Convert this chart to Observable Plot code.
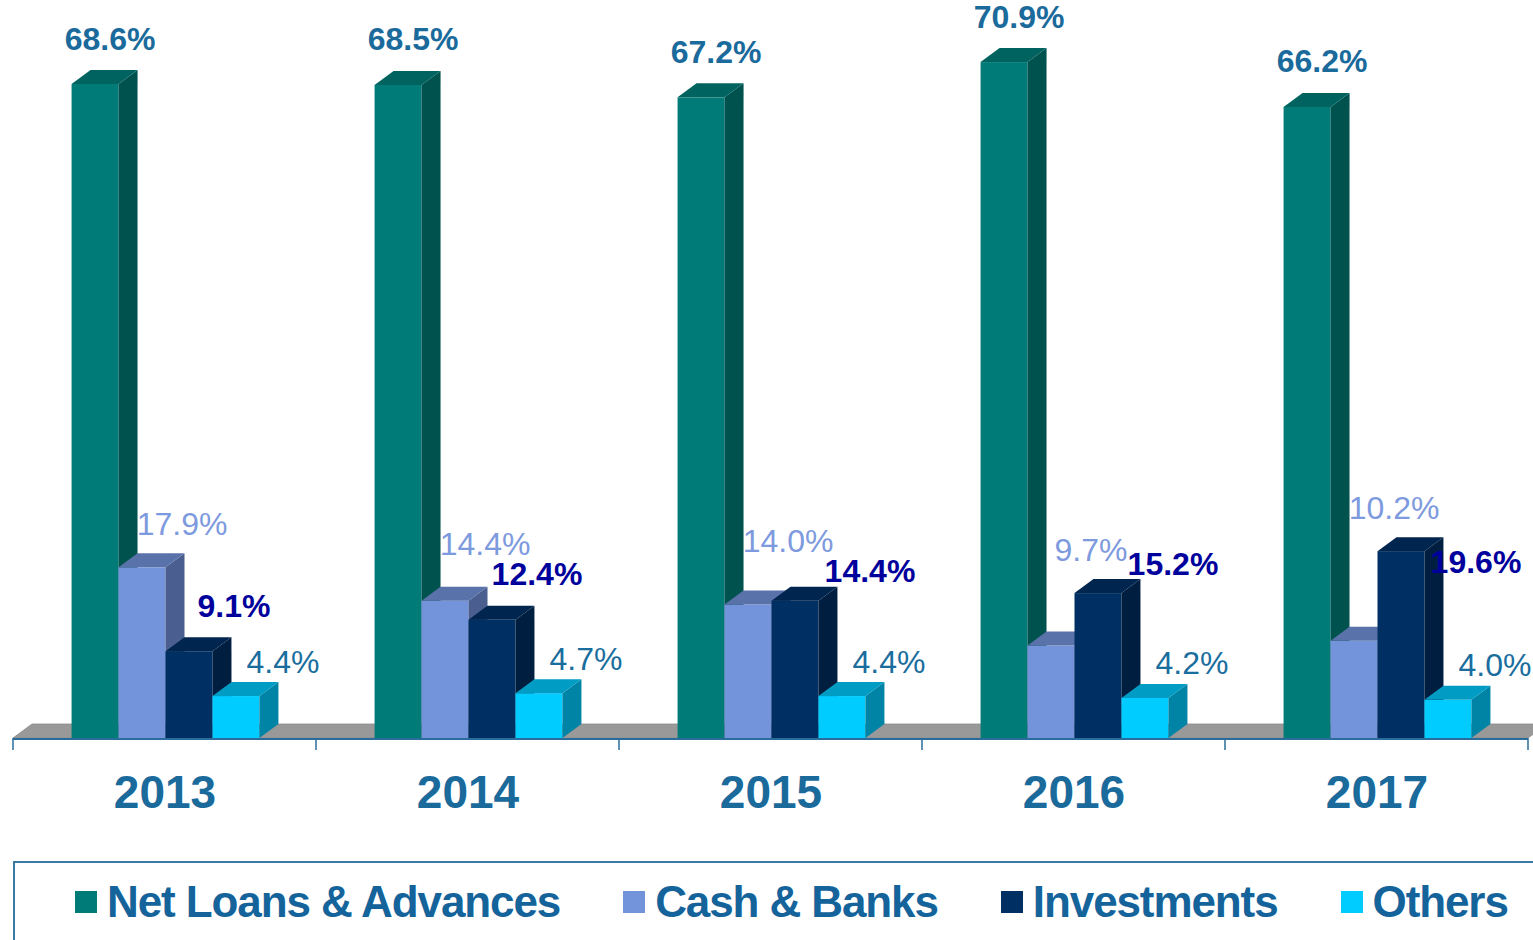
<!DOCTYPE html>
<html><head><meta charset="utf-8">
<script src="https://cdn.jsdelivr.net/npm/d3@7"></script>
<script src="https://cdn.jsdelivr.net/npm/@observablehq/plot@0.6"></script>
<style>
body{margin:0;background:#fff;font-family:"Liberation Sans",Arial,sans-serif;}
#chart{width:1533px;height:855px;}
#legend{margin-left:13px;margin-top:6px;height:79px;border-top:2px solid #3d7aa5;border-left:2px solid #3d7aa5;display:flex;align-items:center;gap:63px;padding-left:60px;box-sizing:border-box;}
.item{display:flex;align-items:center;font-weight:bold;font-size:44px;letter-spacing:-1.1px;color:#14649b;white-space:nowrap;}
.sw{width:22px;height:22px;margin-right:10px;}
</style></head><body>
<div id="chart"></div><div id="legend"></div>
<script>
// ---- data ----
const years = ["2013", "2014", "2015", "2016", "2017"];
const series = ["Net Loans & Advances", "Cash & Banks", "Investments", "Others"];
const netLoans = [68.6, 68.5, 67.2, 70.9, 66.2];
const cashBanks = [17.9, 14.4, 14.0, 9.7, 10.2];
const investments = [9.1, 12.4, 14.4, 15.2, 19.6];
const others = [4.4, 4.7, 4.4, 4.2, 4.0];

// ---- styles ----
const frontColors = ["#007b78", "#7393db", "#003063", "#00ccff"];
const sideColors = ["#00524f", "#4a5f8f", "#001e40", "#0084a6"];
const topColors = ["#00635f", "#5a72aa", "#00254f", "#009cc4"];
const labelColors = ["#1a6a9c", "#7e9ade", "#00009c", "#1a6e9e"];
const labelWeights = ["bold", "normal", "bold", "normal"];
const DX = 19, DY = 14;

const valuesBySeries = [netLoans, cashBanks, investments, others];
const rows = years.flatMap((yr, i) => series.map((s, j) => ({year: yr, series: s, k: j, value: valuesBySeries[j][i], i})));
const fmt = v => v.toFixed(1) + "%";

function bars3d(index, scales) {
  const x = scales.x, y = scales.y;
  const bw = x.bandwidth();
  const barW = bw * 0.155;
  const y0 = y(0);
  const g = d3.create("svg:g");
  const xa = x(years[0]), xb = x(years[years.length - 1]) + bw;
  // floor
  g.append("polygon")
    .attr("points", [[xa, y0], [xa + DX, y0 - DY], [xb + DX, y0 - DY], [xb, y0]].join(" "))
    .attr("fill", "#999999").attr("stroke", "#8a8a8a").attr("stroke-width", 0.8);
  g.append("line").attr("x1", xa).attr("x2", xb).attr("y1", y0 + 1).attr("y2", y0 + 1)
    .attr("stroke", "#2a6d9c").attr("stroke-width", 2);
  for (let t = 0; t <= years.length; t++) {
    const tx = xa + t * bw;
    g.append("line").attr("x1", tx).attr("x2", tx).attr("y1", y0).attr("y2", y0 + 12)
      .attr("stroke", "#2a6d9c").attr("stroke-width", 1.5);
  }
  const geom = rows.map(d => {
    const left = x(d.year) + (bw - series.length * barW) / 2 + d.k * barW + 1;
    return {...d, left, right: left + barW, top: y(d.value), cx: left + barW / 2};
  });
  for (const b of geom) {
    g.append("rect").attr("x", b.left).attr("y", b.top).attr("width", barW).attr("height", y0 - b.top)
      .attr("fill", frontColors[b.k]);
    g.append("polygon")
      .attr("points", [[b.right, b.top], [b.right + DX, b.top - DY], [b.right + DX, y0 - DY], [b.right, y0]].join(" "))
      .attr("fill", sideColors[b.k]);
    g.append("polygon")
      .attr("points", [[b.left, b.top], [b.left + DX, b.top - DY], [b.right + DX, b.top - DY], [b.right, b.top]].join(" "))
      .attr("fill", topColors[b.k]);
  }
  // label placement
  const pos = new Map();
  for (const b of geom) {
    let lx, ly;
    if (b.k === 0) { lx = b.cx + 15; ly = b.top - 46; }
    else if (b.k === 2) {
      const cash = geom.find(o => o.year === b.year && o.k === 1);
      if (b.value >= cash.value) { lx = b.cx + 75; ly = Math.max(b.top - 30, y(18.5)); }
      else { lx = b.cx + 45; ly = b.top - 46; }
    } else if (b.k === 3) { lx = b.cx + 47; ly = b.top - 35; }
    if (b.k !== 1) pos.set(b.year + b.k, [lx, ly]);
  }
  for (const b of geom.filter(d => d.k === 1)) {
    const inv = geom.find(o => o.year === b.year && o.k === 2);
    const [ix, iy] = pos.get(b.year + 2);
    const lx = b.cx + 40;
    let ly = Math.min(b.top, inv.top) - 44;
    const halfW = fmt(b.value).length * 8.5 + fmt(inv.value).length * 9;
    if (Math.abs(ix - lx) < halfW) ly = Math.min(ly, iy - 30);
    pos.set(b.year + 1, [lx, ly]);
  }
  for (const b of geom) {
    const [lx, ly] = pos.get(b.year + b.k);
    g.append("text").attr("x", lx).attr("y", ly).attr("dy", "0.36em")
      .attr("text-anchor", "middle").attr("font-size", 32)
      .attr("font-weight", labelWeights[b.k]).attr("fill", labelColors[b.k])
      .attr("font-family", "Liberation Sans, Arial, sans-serif")
      .text(fmt(b.value));
  }
  return g.node();
}

const chart = Plot.plot({
  width: 1533,
  height: 855,
  marginLeft: 11,
  marginRight: 4,
  marginTop: 23,
  marginBottom: 117,
  style: {background: "transparent", overflow: "visible", fontFamily: "Liberation Sans, Arial, sans-serif"},
  x: {type: "band", domain: years, padding: 0, axis: null},
  y: {domain: [0, 75], axis: null},
  marks: [
    bars3d,
    Plot.text(years, {x: d => d, frameAnchor: "bottom", dy: 69, fontSize: 46, fontWeight: "bold", fill: "#1a6a9c"})
  ]
});
document.getElementById("chart").appendChild(chart);

const legend = d3.select("#legend");
series.forEach((s, j) => {
  const it = legend.append("div").attr("class", "item");
  it.append("div").attr("class", "sw").style("background", frontColors[j]);
  it.append("span").text(s);
});
</script></body></html>
